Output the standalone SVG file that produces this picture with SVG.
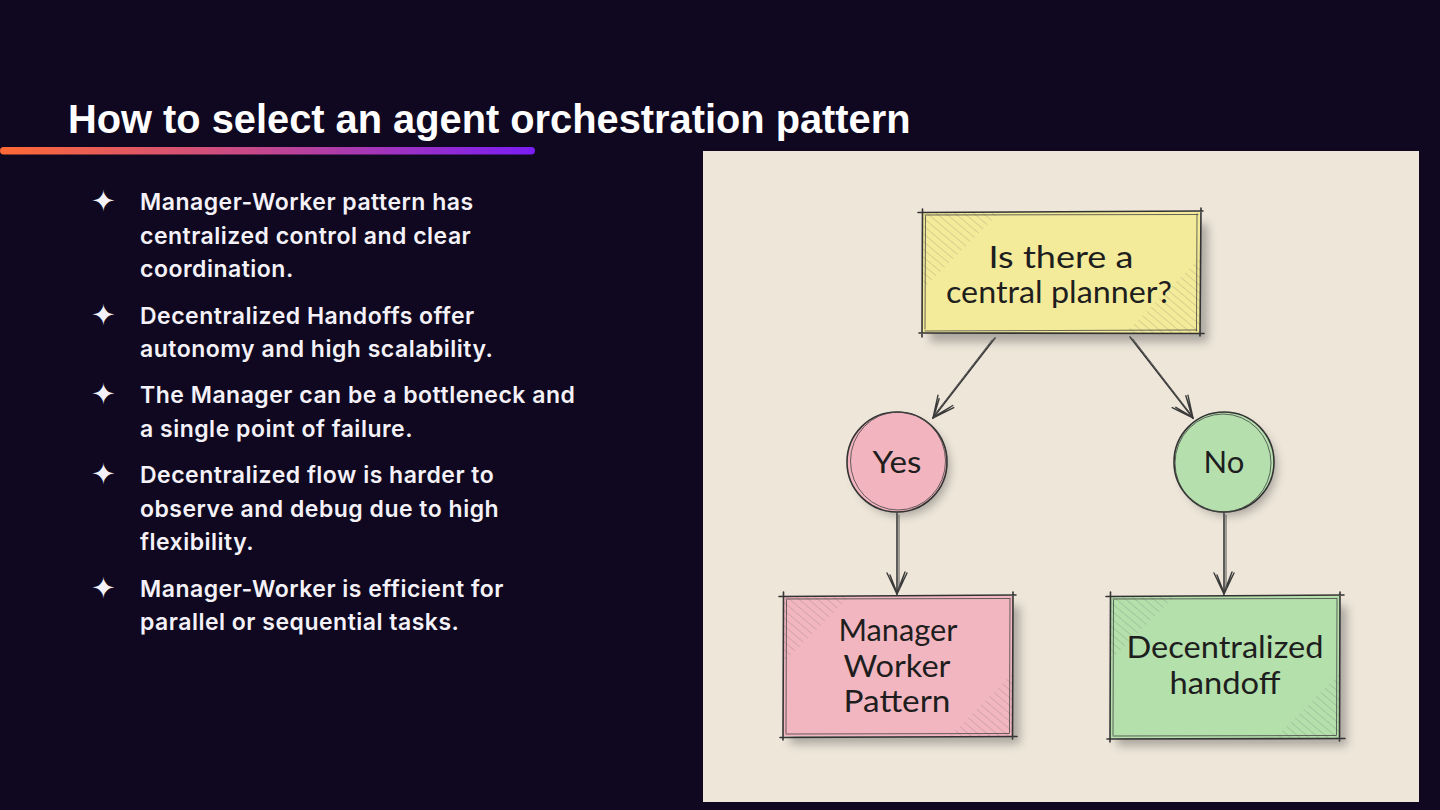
<svg xmlns="http://www.w3.org/2000/svg" width="1440" height="810" viewBox="0 0 1440 810">
  <defs>
    <linearGradient id="bar" x1="0" y1="0" x2="1" y2="0">
      <stop offset="0" stop-color="#ff6a35"/>
      <stop offset="0.45" stop-color="#c94a86"/>
      <stop offset="1" stop-color="#7a1df5"/>
    </linearGradient>
    <filter id="shadow" x="-20%" y="-20%" width="140%" height="140%">
      <feGaussianBlur stdDeviation="5"/>
    </filter>
    <pattern id="hatch" width="6" height="6" patternUnits="userSpaceOnUse" patternTransform="rotate(-50)">
      <line x1="0" y1="0" x2="0" y2="6" stroke="#555" stroke-width="0.8" stroke-opacity="0.45"/>
    </pattern>
    <marker id="vhead" viewBox="0 0 26 26" refX="24" refY="13" markerWidth="26" markerHeight="26" markerUnits="userSpaceOnUse" orient="auto">
      <path d="M3,3 L24,13 L3,23 M5,6 L23,13 L5,20 M2,5 L24,13.5" fill="none" stroke="#3a3a3a" stroke-width="1.4" stroke-linecap="round"/>
    </marker>
  </defs>
  <style>
    .title { font-family: "Liberation Sans", Arial, sans-serif; font-weight: 700; font-size: 39.8px; fill: #ffffff; }
    .bul { font-family: Inter, "Noto Sans", sans-serif; font-weight: 600; font-size: 23px; letter-spacing: 0.5px; fill: #f4f2f8; }
    .star { font-family: "DejaVu Sans", sans-serif; font-size: 29px; fill: #f4f2f8; text-anchor: middle; }
    .hand { font-family: Lato, "Open Sans", sans-serif; font-size: 31px; fill: #1e1e1e; text-anchor: middle; }
    .edge { fill: none; stroke: #3a3a3a; stroke-width: 1.6; stroke-linecap: round; }
    .edge2 { fill: none; stroke: #555; stroke-width: 1; stroke-linecap: round; }
    .sk { fill: none; stroke: #333; stroke-width: 1.6; stroke-linecap: round; }
    .sk2 { fill: none; stroke: #444; stroke-width: 1; stroke-linecap: round; stroke-opacity: 0.8; }
    .shd { fill: #5a5a5a; opacity: 0.45; filter: url(#shadow); }
  </style>

  <rect x="0" y="0" width="1440" height="810" fill="#0f0820"/>

  <text class="title" x="68" y="133">How to select an agent orchestration pattern</text>
  <rect x="0" y="147" width="535" height="7.5" rx="3.7" fill="url(#bar)"/>

  <g id="bullets">
    <text class="star" x="103.5" y="211">✦</text>
    <text class="bul" x="140" y="210">Manager-Worker pattern has</text>
    <text class="bul" x="140" y="243.5">centralized control and clear</text>
    <text class="bul" x="140" y="277">coordination.</text>

    <text class="star" x="103.5" y="325">✦</text>
    <text class="bul" x="140" y="324">Decentralized Handoffs offer</text>
    <text class="bul" x="140" y="357">autonomy and high scalability.</text>

    <text class="star" x="103.5" y="404">✦</text>
    <text class="bul" x="140" y="403">The Manager can be a bottleneck and</text>
    <text class="bul" x="140" y="437">a single point of failure.</text>

    <text class="star" x="103.5" y="484">✦</text>
    <text class="bul" x="140" y="483">Decentralized flow is harder to</text>
    <text class="bul" x="140" y="517">observe and debug due to high</text>
    <text class="bul" x="140" y="550">flexibility.</text>

    <text class="star" x="103.5" y="598">✦</text>
    <text class="bul" x="140" y="597">Manager-Worker is efficient for</text>
    <text class="bul" x="140" y="630">parallel or sequential tasks.</text>
  </g>

  <rect id="panel" x="703" y="151" width="716" height="651" fill="#eee6d9"/>

  <g id="connectors">
    <path class="edge" d="M995,338 L933,418" marker-end="url(#vhead)"/>
    <path class="edge2" d="M992,340 L935,414"/>
    <path class="edge" d="M1130,337 L1193,418" marker-end="url(#vhead)"/>
    <path class="edge2" d="M1133,339 L1190,413"/>
    <path class="edge" d="M897,513 L897,594" marker-end="url(#vhead)"/>
    <path class="edge2" d="M899,515 L899,590"/>
    <path class="edge" d="M1224,513 L1224,594" marker-end="url(#vhead)"/>
    <path class="edge2" d="M1226,515 L1226,590"/>
  </g>

  <g id="q">
    <rect class="shd" x="930" y="224" width="278" height="118"/>
    <rect x="922" y="212" width="278" height="121" fill="#f4eb9a"/>
    <path d="M922,212 L1000,212 L922,290 Z" fill="url(#hatch)"/>
    <path d="M1200,333 L1125,333 L1200,258 Z" fill="url(#hatch)"/>
    <path class="sk" d="M918,212.5 L1203,211 M1201,208 L1200,336 M1204,333.5 L919,333 M922,337 L922.5,209"/>
    <path class="sk2" d="M925,215 L1198,214.5 M1197,214 L1196.5,331 M1196,330 L925,331 M925,329 L925.5,216"/>
    <text class="hand" x="1061" y="268" textLength="145" lengthAdjust="spacingAndGlyphs">Is there a</text>
    <text class="hand" x="1059" y="303" textLength="226" lengthAdjust="spacingAndGlyphs">central planner?</text>
  </g>

  <g id="yes">
    <circle class="shd" cx="902" cy="468" r="48"/>
    <circle cx="897" cy="462" r="50" fill="#f2b5bf"/>
    <circle cx="897" cy="462" r="50" fill="none" stroke="#333" stroke-width="1.6"/>
    <ellipse cx="898" cy="461" rx="47.5" ry="49" fill="none" stroke="#444" stroke-width="1" stroke-opacity="0.8"/>
    <text class="hand" x="897" y="473" textLength="49" lengthAdjust="spacingAndGlyphs">Yes</text>
  </g>

  <g id="no">
    <circle class="shd" cx="1229" cy="468" r="48"/>
    <circle cx="1224" cy="462" r="50" fill="#b5e0ae"/>
    <circle cx="1224" cy="462" r="50" fill="none" stroke="#333" stroke-width="1.6"/>
    <ellipse cx="1223" cy="463" rx="48" ry="49" fill="none" stroke="#444" stroke-width="1" stroke-opacity="0.8"/>
    <text class="hand" x="1224" y="473">No</text>
  </g>

  <g id="mw">
    <rect class="shd" x="790" y="606" width="230" height="138"/>
    <rect x="783" y="596" width="230" height="140" fill="#f2b6c0"/>
    <path d="M783,596 L850,596 L783,663 Z" fill="url(#hatch)"/>
    <path d="M1013,736 L950,736 L1013,673 Z" fill="url(#hatch)"/>
    <path class="sk" d="M779,596.5 L1016,595 M1013,592 L1012.5,739 M1017,736.5 L780,737.5 M783,740 L783.5,592"/>
    <path class="sk2" d="M786,599 L1010,598.5 M1010,599 L1009.5,733 M1009,733.5 L786,734 M786,733 L786.5,600"/>
    <text class="hand" x="898" y="641" textLength="119" lengthAdjust="spacingAndGlyphs">Manager</text>
    <text class="hand" x="897" y="677" textLength="107" lengthAdjust="spacingAndGlyphs">Worker</text>
    <text class="hand" x="897" y="712" textLength="107" lengthAdjust="spacingAndGlyphs">Pattern</text>
  </g>

  <g id="dh">
    <rect class="shd" x="1117" y="606" width="230" height="140"/>
    <rect x="1110" y="596" width="230" height="142" fill="#b4e0ac"/>
    <path d="M1110,596 L1175,596 L1110,661 Z" fill="url(#hatch)"/>
    <path d="M1340,738 L1275,738 L1340,673 Z" fill="url(#hatch)"/>
    <path class="sk" d="M1106,596.5 L1344,595 M1340,592 L1339.5,741 M1345,738.5 L1107,739 M1110,742 L1110.5,592"/>
    <path class="sk2" d="M1113,599 L1337,598.5 M1337,599 L1336.5,735 M1336,735.5 L1113,736 M1113,735 L1113.5,600"/>
    <text class="hand" x="1225" y="658" textLength="197" lengthAdjust="spacingAndGlyphs">Decentralized</text>
    <text class="hand" x="1225" y="694" textLength="111" lengthAdjust="spacingAndGlyphs">handoff</text>
  </g>
</svg>
